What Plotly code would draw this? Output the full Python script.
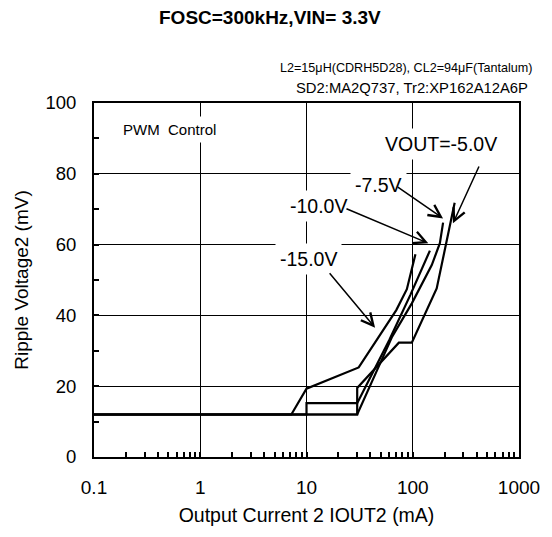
import plotly.graph_objects as go
import math

# ---- data ----
iout_m15 = [0.1, 7.2, 10, 31, 70, 88, 106]
ripple_m15 = [12, 12, 19.3, 25.3, 41.5, 47.4, 57.3]

iout_m10 = [0.1, 10, 10, 30, 60, 95, 145]
ripple_m10 = [12, 12, 15.2, 15.2, 33, 45.8, 58.3]

iout_m75 = [0.1, 30, 64, 98, 151, 180, 193]
ripple_m75 = [12, 12, 34, 43.4, 54.2, 60.4, 66.2]

iout_m5 = [0.1, 30, 30, 74, 98, 168, 248]
ripple_m5 = [12, 12, 19.5, 32.3, 32.3, 47.6, 71.8]

y_tickvals = [0, 20, 40, 60, 80, 100]

FONT = "Liberation Sans, Arial, sans-serif"

fig = go.Figure()
for name, xs, ys in [("-15.0V", iout_m15, ripple_m15),
                     ("-10.0V", iout_m10, ripple_m10),
                     ("-7.5V", iout_m75, ripple_m75),
                     ("-5.0V", iout_m5, ripple_m5)]:
    fig.add_trace(go.Scatter(x=xs, y=ys, mode="lines", name=name,
                             line=dict(color="black", width=2.2),
                             showlegend=False))

# page body has an 8px default margin, so the figure is sized to fit inside it
fig.update_layout(
    width=544, height=529,
    margin=dict(l=83, r=30, t=95, b=80),
    paper_bgcolor="white", plot_bgcolor="white",
    font=dict(family=FONT, color="black", size=18),
)

fig.update_xaxes(
    type="log", range=[-1, 3],
    tickmode="linear", tick0=0, dtick=1,
    ticks="inside", ticklen=5, tickcolor="black", tickwidth=1.5,
    showgrid=True, gridcolor="black", gridwidth=1,
    showline=True, linecolor="black", linewidth=2, mirror=True,
    ticklabelstandoff=12,
    tickfont=dict(size=19),
    minor=dict(ticks="inside", ticklen=5, tickcolor="black", tickwidth=1.5,
               dtick="D1", showgrid=False),
    title=dict(text="Output Current 2 IOUT2 (mA)", font=dict(size=19.5), standoff=12),
    zeroline=False,
)
fig.update_yaxes(
    range=[0, 100],
    tickvals=y_tickvals,
    ticks="inside", ticklen=5, tickcolor="black", tickwidth=1.5,
    showgrid=True, gridcolor="black", gridwidth=1,
    showline=True, linecolor="black", linewidth=2, mirror=True,
    ticklabelstandoff=12,
    tickfont=dict(size=18.5),
    minor=dict(ticks="inside", ticklen=5, tickcolor="black", tickwidth=1.5,
               dtick=10, showgrid=False),
    title=dict(text="Ripple Voltage2 (mV)", font=dict(size=19), standoff=12),
    zeroline=False,
)

anns = []
anns.append(dict(text="<b>FOSC=300kHz,VIN= 3.3V</b>", xref="paper", yref="paper",
                 x=0.413, y=1.242, xanchor="center", yanchor="middle",
                 showarrow=False, font=dict(size=19)))
anns.append(dict(text="L2=15\u03bcH(CDRH5D28), CL2=94\u03bcF(Tantalum)", xref="paper", yref="paper",
                 x=1.037, y=1.099, xanchor="right", yanchor="middle",
                 showarrow=False, font=dict(size=12.6)))
anns.append(dict(text="SD2:MA2Q737, Tr2:XP162A12A6P", xref="paper", yref="paper",
                 x=1.026, y=1.042, xanchor="right", yanchor="middle",
                 showarrow=False, font=dict(size=14.8)))
labels = [
    ("PWM  Control", -0.285, 92.4, 15),
    ("VOUT=-5.0V", 2.267, 88.4, 19.5),
    ("-7.5V", 1.673, 76.8, 19.5),
    ("-10.0V", 1.111, 70.8, 19.5),
    ("-15.0V", 1.023, 55.9, 19.5),
]
for t, lx, ly, fs in labels:
    anns.append(dict(text=t, x=lx, y=ly, xref="x", yref="y", showarrow=False,
                     font=dict(size=fs), bgcolor="white", borderpad=4))
arrows = [
    (math.log10(239), 66.0, 26.7, -58.3),
    (math.log10(192.8), 67.4, -46.7, -32.3),
    (math.log10(140), 60.4, -83.3, -35.0),
    (math.log10(44.2), 36.5, -46.7, -56.0),
]
for tx, ty, ax, ay in arrows:
    anns.append(dict(text="", x=tx, y=ty, xref="x", yref="y", ax=ax, ay=ay,
                     showarrow=True, arrowhead=5, arrowsize=1.6, arrowwidth=1.5,
                     arrowcolor="black", standoff=0, startstandoff=0))
fig.update_layout(annotations=anns)

fig.write_html("out.html")
